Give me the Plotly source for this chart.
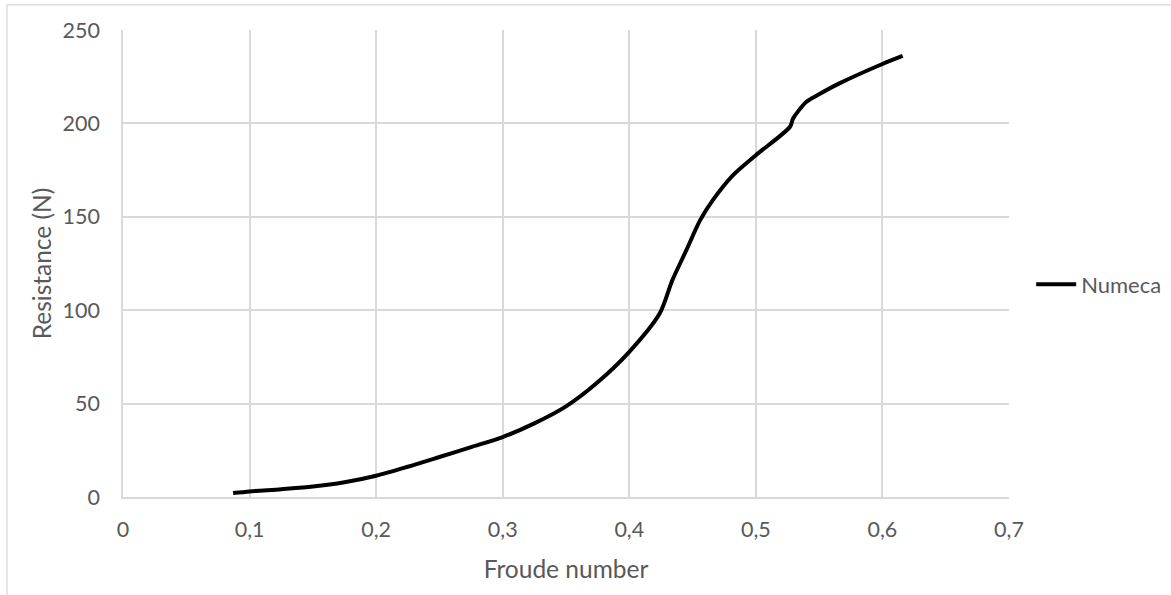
import plotly.graph_objects as go

froude = [0.087, 0.1, 0.125, 0.15, 0.175, 0.2, 0.225, 0.25, 0.275, 0.3, 0.325, 0.35, 0.375, 0.4, 0.424, 0.434, 0.445, 0.456, 0.466, 0.482, 0.5, 0.527, 0.5295, 0.54, 0.551, 0.566, 0.6, 0.616]
resistance = [2.1, 3.0, 4.2, 5.6, 7.9, 11.4, 16.2, 21.4, 26.7, 32.1, 39.4, 48.5, 61.4, 77.7, 98.2, 116, 132, 148.2, 158.9, 172.3, 183, 198.2, 202.7, 211.6, 216, 221.4, 231.8, 236.1]
series_name = "Numeca"
x_title = "Froude number"
y_title = "Resistance (N)"

FONT = "Lato"
TXT = "#595959"
GRID = "#d9d9d9"

fig = go.Figure()
fig.add_trace(go.Scatter(
    x=froude, y=resistance, mode="lines", name=series_name,
    line=dict(color="#000000", width=4, shape="spline", smoothing=0.8),
))

fig.update_layout(
    width=1171, height=595,
    margin=dict(l=123, r=162, t=30, b=98, autoexpand=False),
    paper_bgcolor="white", plot_bgcolor="white",
    separators=", ",
    font=dict(family=FONT, color=TXT, size=21),
    showlegend=True,
    legend=dict(x=1.025, y=0.455, xanchor="left", yanchor="middle",
                font=dict(family=FONT, size=22, color=TXT),
                bgcolor="rgba(0,0,0,0)", itemwidth=40),
    xaxis=dict(range=[0, 0.7], dtick=0.1, tick0=0, showgrid=True, gridcolor=GRID, gridwidth=1.5,
               zeroline=False, showline=True, linecolor=GRID, linewidth=1.5, mirror=False,
               ticks="outside", ticklen=12, tickcolor="rgba(0,0,0,0)",
               tickfont=dict(family=FONT, size=21.5, color=TXT),
               title=dict(text=x_title, font=dict(family=FONT, size=24.5, color=TXT), standoff=20)),
    yaxis=dict(range=[0, 250], dtick=50, showgrid=True, gridcolor=GRID, gridwidth=1.5,
               zeroline=False, showline=True, linecolor=GRID, linewidth=1.5,
               ticks="outside", ticklen=17, tickcolor="rgba(0,0,0,0)",
               tickfont=dict(family=FONT, size=21.5, color=TXT),
               title=dict(text=y_title, font=dict(family=FONT, size=24.5, color=TXT), standoff=4)),
    shapes=[dict(type="rect", xref="paper", yref="paper", x0=-0.1309, y0=-0.4, x1=1.4, y1=1.0536,
                 line=dict(color=GRID, width=1.3), fillcolor="rgba(0,0,0,0)", layer="below")],
)

fig.write_html("out.html", config={"displayModeBar": False},
               post_script="document.body.style.margin='0';")
